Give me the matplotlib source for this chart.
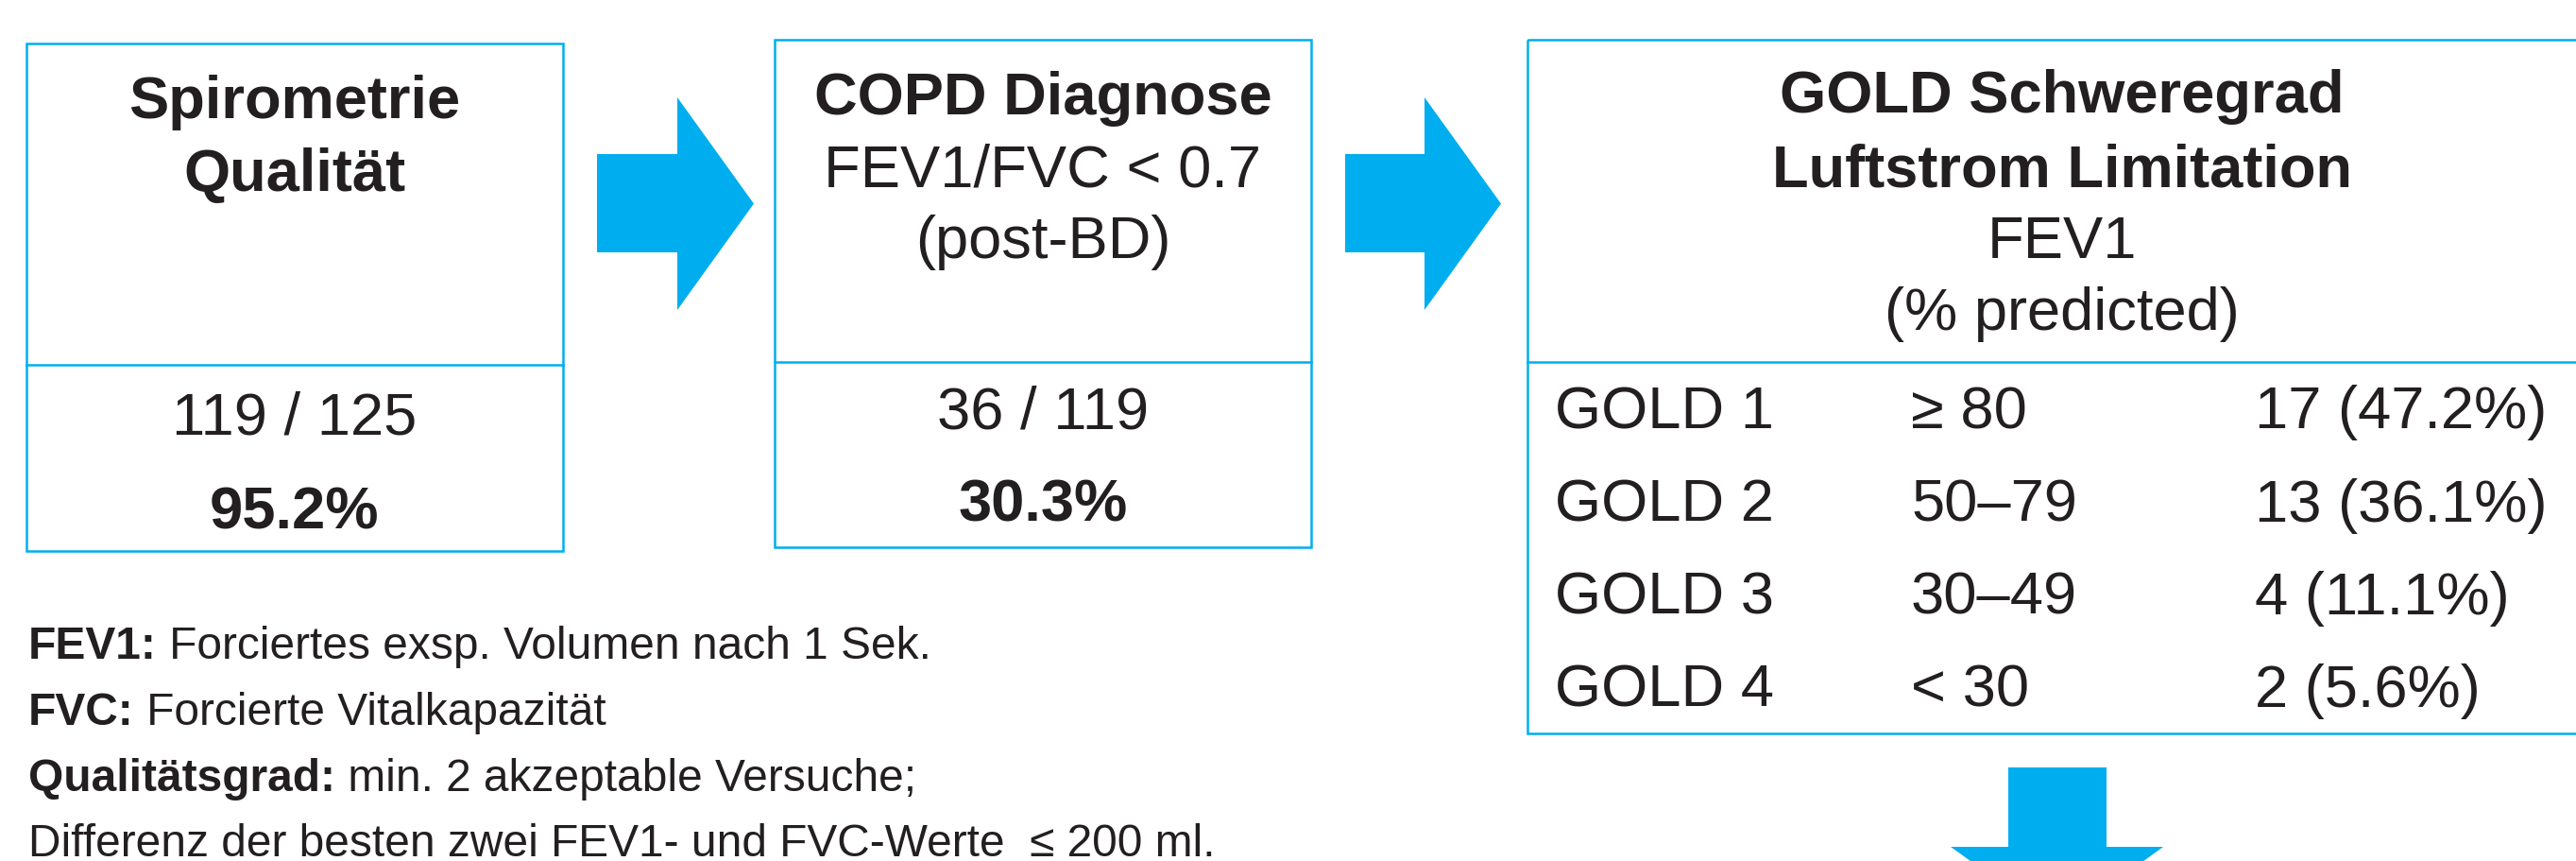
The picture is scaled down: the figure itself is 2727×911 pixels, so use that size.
import matplotlib
matplotlib.use("Agg")
import matplotlib.pyplot as plt
from matplotlib.patches import Rectangle, Polygon

plt.rcParams['font.family'] = ['Liberation Sans', 'DejaVu Sans']

# data
quality_n, quality_total, quality_pct = 119, 125, 95.2
copd_n, copd_total, copd_pct = 36, 119, 30.3
gold_stages = ["GOLD 1", "GOLD 2", "GOLD 3", "GOLD 4"]
fev1_ranges = ["\u2265 80", "50\u201379", "30\u201349", "< 30"]
gold_n = [17, 13, 4, 2]
gold_pct = [47.2, 36.1, 11.1, 5.6]
notes = [
    ("FEV1:", " Forciertes exsp. Volumen nach 1 Sek."),
    ("FVC:", " Forcierte Vitalkapazität"),
    ("Qualitätsgrad:", " min. 2 akzeptable Versuche;"),
    ("", "Differenz der besten zwei FEV1- und FVC-Werte  \u2264 200 ml."),
]

BLUE = '#00AEEF'
INK = '#231F20'
FS = 45.5
FS_NOTE = 34.5

fig = plt.figure(figsize=(27.27, 9.11), dpi=100)
ax = fig.add_axes([0, 0, 1, 1])
ax.set_xlim(0, 2727)
ax.set_ylim(911, 0)
ax.axis('off')


def box(x0, x1, y0, ydiv, y1):
    ax.add_patch(Rectangle((x0, y0), x1 - x0, y1 - y0, fill=False,
                           edgecolor=BLUE, linewidth=1.8))
    ax.plot([x0, x1], [ydiv, ydiv], color=BLUE, linewidth=1.8)


def right_arrow(x0, xm, x1, ty0, ty1, hy0, hy1):
    ym = (hy0 + hy1) / 2
    pts = [(x0, ty0), (xm, ty0), (xm, hy0), (x1, ym),
           (xm, hy1), (xm, ty1), (x0, ty1)]
    ax.add_patch(Polygon(pts, closed=True, facecolor=BLUE, edgecolor='none'))


def txt(x, y, s, bold=False, size=FS, ha='center'):
    return ax.text(x, y, s, ha=ha, va='baseline', fontsize=size, color=INK,
                   fontweight='bold' if bold else 'normal')


# box 1: spirometry quality
box(28, 596, 46, 386, 583)
txt(312, 125, "Spirometrie", bold=True)
txt(312, 202, "Qualität", bold=True)
txt(312, 460, f"{quality_n} / {quality_total}")
txt(312, 559, f"{quality_pct:.1f}%", bold=True)

right_arrow(632, 717, 798, 163, 267, 103, 328)

# box 2: COPD diagnosis
box(820, 1388, 42, 383, 579)
txt(1104, 121, "COPD Diagnose", bold=True)
txt(1104, 198, "FEV1/FVC < 0.7")
txt(1104, 273, "(post-BD)")
txt(1104, 453, f"{copd_n} / {copd_total}")
txt(1104, 552, f"{copd_pct:.1f}%", bold=True)

right_arrow(1424, 1508, 1589, 163, 267, 103, 328)

# box 3: GOLD severity (runs off the right edge)
box(1617, 2760, 42, 383, 776)
txt(2183, 119, "GOLD Schweregrad", bold=True)
txt(2183, 198, "Luftstrom Limitation", bold=True)
txt(2183, 273, "FEV1")
txt(2183, 349, "(% predicted)")
row_y = [453, 552, 650, 748]
for y, stage, rng, n, p in zip(row_y, gold_stages, fev1_ranges, gold_n, gold_pct):
    txt(1646, y, stage, ha='left')
    txt(2023, y, rng, ha='left')
    txt(2387, y, f"{n} ({p:.1f}%)", ha='left')

# down arrow below box 3 (cut by the edge)
ax.add_patch(Polygon([(2126, 812), (2230, 812), (2230, 896), (2290, 896),
                      (2178, 977), (2065, 896), (2126, 896)],
                     closed=True, facecolor=BLUE, edgecolor='none'))

# footnotes with bold keys
renderer = fig.canvas.get_renderer()
note_y = [697, 767, 837, 906]
for y, (key, rest) in zip(note_y, notes):
    x = 30
    if key:
        t = txt(x, y, key, bold=True, size=FS_NOTE, ha='left')
        bb = t.get_window_extent(renderer=renderer)
        x = ax.transData.inverted().transform((bb.x1, bb.y0))[0]
    txt(x, y, rest, size=FS_NOTE, ha='left')

fig.savefig('out.png', dpi=100, facecolor='white')
